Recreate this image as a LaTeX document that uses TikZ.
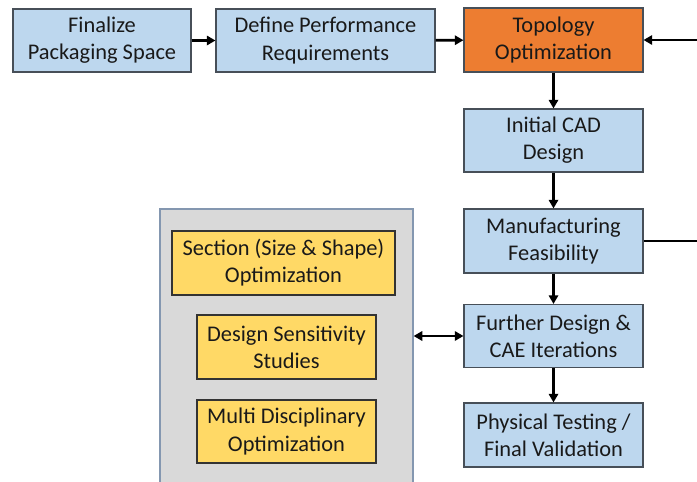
\documentclass[tikz,border=0pt]{standalone}
\usepackage{fontspec}
\setmainfont{Carlito}
\usetikzlibrary{arrows.meta}
\definecolor{boxblue}{HTML}{BDD7EE}
\definecolor{boxorange}{HTML}{ED7D31}
\definecolor{boxyellow}{HTML}{FFD966}
\definecolor{panelgray}{HTML}{D9D9D9}
\definecolor{paneledge}{HTML}{8497B0}
\definecolor{boxedge}{HTML}{474F58}
\tikzset{
  stepbox/.style={draw=boxedge, line width=0.8pt, fill=boxblue, align=center,
    inner sep=0pt, font=\fontsize{16.8}{20.4}\selectfont, text=black!90},
  hotbox/.style={stepbox, fill=boxorange},
  toolbox/.style={stepbox, fill=boxyellow, draw=black!80},
  flow/.style={line width=2.1pt, -{Triangle[length=6.5pt,width=7pt]}},
  twoway/.style={line width=2.1pt, {Triangle[length=6.5pt,width=7pt]}-{Triangle[length=6.5pt,width=7pt]}},
  plain/.style={line width=2.1pt}
}
\begin{document}
\begin{tikzpicture}[x=0.75pt,y=-0.75pt]
\useasboundingbox (0,0) rectangle (697,482);
\clip (0,0) rectangle (697,482);
\fill[white] (0,0) rectangle (697,482);

% side panel holding the optimisation tools
\node[draw=paneledge, line width=0.9pt, fill=panelgray, minimum width=253*0.75pt,
  minimum height=290*0.75pt, inner sep=0pt] (panel) at (286.5,354) {};

% main process chain
\node[stepbox, minimum width=178*0.75pt, minimum height=63*0.75pt] (final) at (102,40.5) {Finalize\\Packaging Space};
\node[stepbox, minimum width=219*0.75pt, minimum height=63*0.75pt] (perf) at (325.5,40.5) {Define Performance\\Requirements};
\node[hotbox, minimum width=179*0.75pt, minimum height=64*0.75pt] (topo) at (553.5,40) {Topology\\Optimization};
\node[stepbox, minimum width=179*0.75pt, minimum height=63*0.75pt] (cad) at (553.5,140.5) {Initial CAD\\Design};
\node[stepbox, minimum width=179*0.75pt, minimum height=64*0.75pt] (manu) at (553.5,241) {Manufacturing\\Feasibility};
\node[stepbox, minimum width=179*0.75pt, minimum height=63*0.75pt] (cae) at (553.5,336) {Further Design \&\\CAE Iterations};
\node[stepbox, minimum width=179*0.75pt, minimum height=64*0.75pt] (test) at (553.5,435) {Physical Testing /\\Final Validation};

% tools inside the panel
\node[toolbox, minimum width=223*0.75pt, minimum height=64*0.75pt] (sect) at (283.5,263) {Section (Size \& Shape)\\Optimization};
\node[toolbox, minimum width=179*0.75pt, minimum height=64*0.75pt] (sens) at (286.5,347) {Design Sensitivity\\Studies};
\node[toolbox, minimum width=179*0.75pt, minimum height=63*0.75pt] (mdo) at (286.5,431.5) {Multi Disciplinary\\Optimization};

% loose ends of the feedback loop
\coordinate (loopin) at (697,40);
\coordinate (loopout) at (697,241);

% connectors
\draw[flow] (final) -- (perf);
\draw[flow] (perf) -- (topo);
\draw[flow] (loopin) -- (topo.east);
\draw[flow] (topo) -- (cad);
\draw[flow] (cad) -- (manu);
\draw[flow] (manu) -- (cae);
\draw[flow] (cae) -- (test);
\draw[plain] (manu.east) -- (loopout);
\draw[twoway] (panel.east |- cae.west) -- (cae.west);
\end{tikzpicture}
\end{document}
